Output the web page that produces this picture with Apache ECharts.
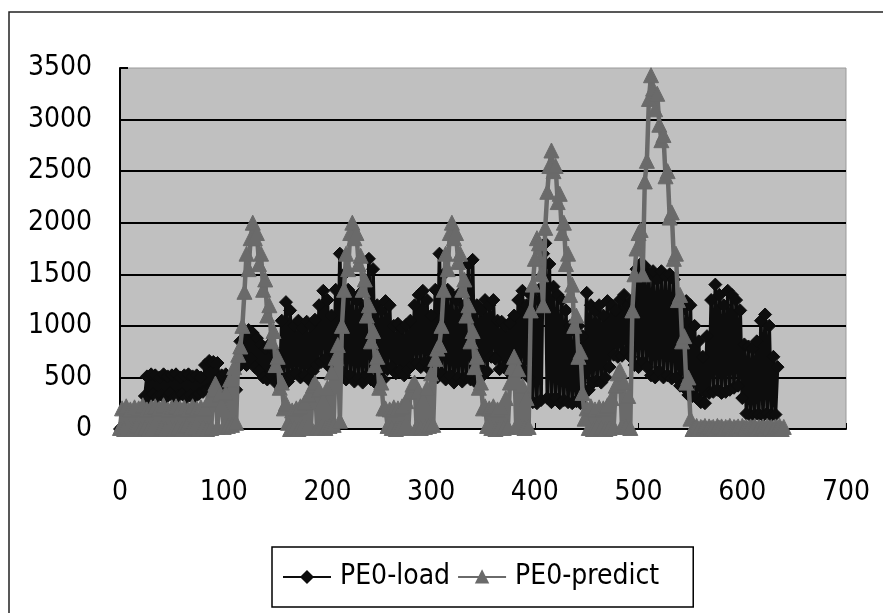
<!DOCTYPE html>
<html>
<head>
<meta charset="utf-8">
<script src="https://cdn.jsdelivr.net/npm/echarts@6/dist/echarts.min.js"></script>
<style>
html,body{margin:0;padding:0;background:#fff;}
#chart{width:883px;height:613px;}
</style>
</head>
<body>
<div id="chart"></div>
<script>
// sample spacing along the x axis (one value every 2 samples)
const xStep = 2;
const seriesNames = ['PE0-load', 'PE0-predict'];
const xTicks = [0, 100, 200, 300, 400, 500, 600, 700];
const yTicks = [0, 500, 1000, 1500, 2000, 2500, 3000, 3500];

// PE0-load, x = 0 .. 634
const loadValues = [
  0,20,5,30,0,15,10,25,0,20,5,30,
  320,510,300,530,340,520,310,500,330,530,300,510,350,520,310,530,320,500,340,520,300,530,330,510,310,520,340,500,360,
  620,380,660,400,650,370,640,420,
  520,340,530,360,510,330,540,380,
  600,850,700,940,620,960,680,930,600,880,560,820,
  500,780,480,820,520,760,450,700,480,
  1050,500,1230,460,1150,520,
  1000,540,1050,500,980,520,1040,480,1000,560,1060,620,
  1200,650,1340,680,1250,600,
  1100,520,1350,500,1700,560,1500,480,1350,520,
  1300,460,1250,500,1320,450,1200,
  520,1650,480,1550,
  450,1200,500,1150,480,
  1240,580,1200,600,
  1000,540,1020,560,980,520,1010,580,1050,
  620,1200,640,1300,600,1340,650,1250,580,
  1100,520,1350,500,1700,540,1500,480,1350,520,
  1300,450,1250,500,1320,460,1200,
  500,1600,480,1640,460,
  1200,500,1150,520,
  1250,560,1200,700,
  1250,680,1050,580,1040,600,1000,560,1030,600,1100,
  560,1250,600,1340,550,1200,500,
  1300,260,1250,250,1350,280,
  1700,1800,300,1600,
  260,1380,300,1300,250,1250,280,1150,260,
  1000,250,950,270,1000,250,900,
  350,1320,380,
  1200,450,1150,470,1200,450,1100,
  500,1240,600,
  1200,720,1150,700,1250,710,1300,750,1200,700,1250,
  620,1550,600,1600,650,1580,600,
  1500,520,1530,500,1450,560,1530,500,1480,520,1500,490,1450,500,
  1200,420,1150,400,
  1240,330,1200,320,
  1000,300,850,260,700,250,900,
  350,1250,360,1400,380,1300,350,
  1200,360,1340,380,1300,400,1250,420,1150,
  300,820,150,800,130,780,140,850,
  140,1050,130,1110,150,
  1000,130,700,140,600
];

// PE0-predict, x = 0 .. 640
const predictValues = [
  10,200,0,220,20,190,0,210,30,200,0,230,10,190,0,210,20,220,0,200,10,230,0,190,20,210,0,220,10,200,0,210,30,190,0,220,10,200,0,210,20,200,0,
  290,10,380,440,20,330,240,
  20,350,30,480,40,600,60,720,800,
  1000,1330,
  1700,1550,1850,2000,1850,1900,1600,1700,1350,1450,1100,1200,850,950,620,700,400,450,200,250,60,0,
  180,10,200,0,220,20,
  260,10,330,20,420,450,10,380,20,280,
  10,400,30,550,40,690,815,80,1000,
  1350,1700,1550,1900,2000,1850,1900,1600,1680,1350,1450,1100,1200,850,950,620,700,400,450,200,200,30,
  190,10,210,0,200,20,220,
  20,270,10,360,430,450,20,370,10,280,
  20,400,30,540,40,680,780,815,1000,
  1350,1700,1550,1900,2000,1850,1900,1620,1700,1350,1450,1100,1200,850,950,600,700,400,450,200,220,30,
  200,10,220,0,190,20,210,10,
  300,20,450,600,700,30,580,20,420,10,300,20,
  1150,1400,1650,1850,1800,1500,1200,1950,
  2300,2550,2700,2500,2550,2200,2280,1900,2000,1600,1700,1300,1400,1000,1100,700,750,350,100,
  200,10,220,0,190,20,210,10,200,0,230,
  10,300,20,420,540,570,30,450,20,320,10,
  1150,1500,1750,1900,1930,1500,2400,2600,
  3200,3430,3300,3100,3250,2950,
  2800,2850,2450,2500,2050,2100,1650,1700,1250,1300,850,900,450,500,100,0,
  10,30,0,20,10,30,0,25,10,20,0,30,10,25,0,20,10,30,0,20,10,25,
  0,30,10,20,0,25,10,30,0,20,10,25,0,30,10,20,0,25,10,30,0,20
];

const NARROW = "'DejaVu Sans Condensed','Liberation Sans Narrow','DejaVu Sans',sans-serif";
const FS = 28;

const toPairs = arr => arr.map((v, i) => [i * xStep, v]);

const chart = echarts.init(document.getElementById('chart'), null, {renderer: 'canvas'});
chart.setOption({
  animation: false,
  backgroundColor: '#ffffff',
  graphic: [{
    type: 'rect',
    shape: {x: 9, y: 12, width: 900, height: 700},
    style: {fill: 'none', stroke: '#222', lineWidth: 1.5},
    silent: true
  }],
  grid: {
    left: 120, top: 68, right: 37, bottom: 184,
    show: true, backgroundColor: '#c0c0c0', borderColor: '#9a9a9a', borderWidth: 1
  },
  legend: {
    data: seriesNames,
    left: 272, top: 547,
    padding: [14, 34, 14, 10],
    borderColor: '#000', borderWidth: 1.5,
    itemGap: 7, itemWidth: 48, itemHeight: 14,
    textStyle: {fontSize: FS, fontFamily: NARROW, color: '#000', lineHeight: 32, padding: [0, 0, 0, 4]}
  },
  xAxis: {
    type: 'value', min: xTicks[0], max: xTicks[xTicks.length - 1], interval: 100,
    axisLine: {show: true, lineStyle: {color: '#000', width: 2}},
    axisTick: {show: true, inside: true, length: 6, lineStyle: {color: '#000'}},
    splitLine: {show: false},
    axisLabel: {fontSize: FS, fontFamily: NARROW, color: '#000', margin: 50, formatter: v => String(v)}
  },
  yAxis: {
    type: 'value', min: yTicks[0], max: yTicks[yTicks.length - 1], interval: 500,
    axisLine: {show: true, lineStyle: {color: '#000', width: 2}},
    axisTick: {show: true, inside: true, length: 8, lineStyle: {color: '#000', width: 2}},
    splitLine: {show: true, showMaxLine: false, lineStyle: {color: '#000', width: 2}},
    axisLabel: {fontSize: FS, fontFamily: NARROW, color: '#000', margin: 28, formatter: v => String(v)}
  },
  series: [
    {
      name: seriesNames[0], type: 'line',
      data: toPairs(loadValues),
      symbol: 'diamond', symbolSize: 13,
      itemStyle: {color: '#0d0d0d', borderColor: '#0d0d0d', borderWidth: 1},
      lineStyle: {color: '#0d0d0d', width: 3.5},
      z: 2
    },
    {
      name: seriesNames[1], type: 'line',
      data: toPairs(predictValues),
      symbol: 'triangle', symbolSize: 15,
      itemStyle: {color: '#6a6a6a', borderColor: '#6a6a6a', borderWidth: 1},
      lineStyle: {color: '#6a6a6a', width: 4.5},
      z: 3
    }
  ]
});
</script>
</body>
</html>
